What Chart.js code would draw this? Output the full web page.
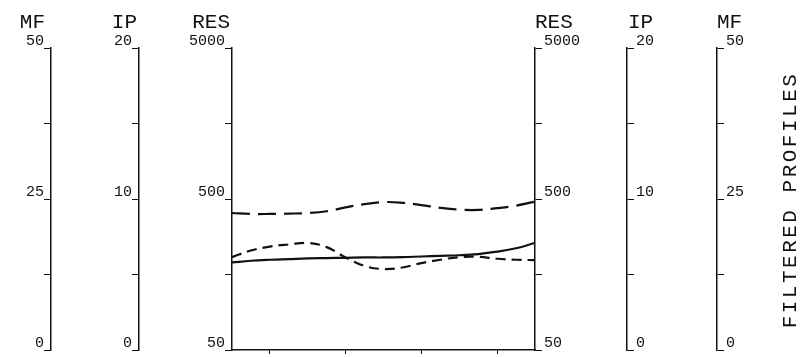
<!DOCTYPE html>
<html>
<head>
<meta charset="utf-8">
<script src="https://cdn.jsdelivr.net/npm/chart.js@4"></script>
<style>
  html, body { margin: 0; padding: 0; background: #fff; }
  #wrap { width: 806px; height: 357px; position: relative; }
</style>
</head>
<body>
<div id="wrap"><canvas id="chart"></canvas></div>
<script>
// profile positions along the bottom axis (0..8)
const xPos = [0, 0.5, 1, 1.5, 2, 2.5, 3, 3.5, 4, 4.5, 5, 5.5, 6, 6.5, 7, 7.5, 8]

// RES values (log axis)
const upperRes  = [404, 398, 398, 400, 404, 415, 440, 462, 477, 472, 456, 437, 425, 423, 435, 452, 480]
const middleRes = [206, 228, 242, 250, 256, 240, 205, 180, 172, 176, 188, 198, 206, 207, 201, 198, 197]
const lowerRes  = [190, 195, 198, 200, 202, 203, 204, 205, 205, 206, 208, 210, 212, 216, 224, 236, 256]

// axis ticks + labels
const mfTicks   = [0, 12.5, 25, 37.5, 50]
const mfLabels  = ["0", "", "25", "", "50"]
const ipTicks   = [0, 5, 10, 15, 20]
const ipLabels  = ["0", "", "10", "", "20"]
const resTicks  = [50, 158.1, 500, 1581, 5000]
const resLabels = ["50", "", "500", "", "5000"]
const xTicks    = [1, 3, 5, 7]

const FONT = "'Liberation Mono', 'DejaVu Sans Mono', monospace"
const widths = { mfL: 51, ipL: 88, resL: 93, resR: 92, ipR: 90, mfR: 89 }
const titles = { mfL: "MF", ipL: "IP", resL: "RES", resR: "RES", ipR: "IP", mfR: "MF" }
const titleShift = { mfL: -6, ipL: -2, resL: -2, resR: 0, ipR: 1, mfR: 0 }

const pts = (vals) => vals.map((v, i) => ({ x: xPos[i], y: v }))

function yAxis(id, position, weight, type, min, max, ticks, labels) {
  return {
    type, position, weight, min, max,
    afterBuildTicks: (s) => { s.ticks = ticks.map(v => ({ value: v })) },
    afterFit: (s) => { s.width = widths[id]; s.paddingTop = 0; s.paddingBottom = 0 },
    border: { display: true, color: "#111", width: 1.5 },
    grid: { drawOnChartArea: false, drawTicks: true, tickLength: 7, color: "#111", lineWidth: 1 },
    ticks: {
      autoSkip: false,
      padding: position === "left" ? 0 : 2,
      labelOffset: -7,
      color: "#111",
      font: { family: FONT, size: 15 },
      callback: (v, i) => labels[i]
    }
  }
}

const titlePlugin = {
  id: "axisTitles",
  afterDraw(chart) {
    const ctx = chart.ctx
    ctx.save()
    ctx.fillStyle = "#111"
    ctx.font = `21px ${FONT}`
    ctx.textBaseline = "alphabetic"
    Object.keys(titles).forEach(id => {
      const s = chart.scales[id]
      if (s.position === "left") {
        ctx.textAlign = "right"
        ctx.fillText(titles[id], s.right + titleShift[id], 28)
      } else {
        ctx.textAlign = "left"
        ctx.fillText(titles[id], s.left + titleShift[id], 28)
      }
    })
    // side title, reads bottom to top
    ctx.translate(790, 200)
    ctx.rotate(-Math.PI / 2)
    ctx.textAlign = "center"
    ctx.textBaseline = "middle"
    ctx.letterSpacing = "2.5px"
    ctx.fillText("FILTERED PROFILES", 0, 0)
    ctx.restore()
  }
}

new Chart(document.getElementById("chart"), {
  type: "line",
  data: {
    datasets: [
      { label: "upper", data: pts(upperRes), borderDash: [18, 8] },
      { label: "middle", data: pts(middleRes), borderDash: [10, 6] },
      { label: "lower", data: pts(lowerRes) }
    ].map(d => ({
      ...d, yAxisID: "resL", borderColor: "#111", borderWidth: 2.2,
      pointRadius: 0, tension: 0.4, fill: false
    }))
  },
  options: {
    responsive: true,
    maintainAspectRatio: false,
    animation: false,
    layout: { padding: { top: 48, left: 0, right: 0, bottom: 0 } },
    plugins: { legend: { display: false }, tooltip: { enabled: false } },
    scales: {
      x: {
        type: "linear", min: 0, max: 8,
        afterBuildTicks: (s) => { s.ticks = xTicks.map(v => ({ value: v })) },
        afterFit: (s) => { s.height = 7; s.paddingLeft = 0; s.paddingRight = 0 },
        border: { display: true, color: "#111", width: 1.5 },
        grid: { drawOnChartArea: false, drawTicks: true, tickLength: 4, color: "#111" },
        ticks: { display: false }
      },
      mfL: yAxis("mfL", "left", 3, "linear", 0, 50, mfTicks, mfLabels),
      ipL: yAxis("ipL", "left", 2, "linear", 0, 20, ipTicks, ipLabels),
      resL: yAxis("resL", "left", 1, "logarithmic", 50, 5000, resTicks, resLabels),
      resR: yAxis("resR", "right", 1, "logarithmic", 50, 5000, resTicks, resLabels),
      ipR: yAxis("ipR", "right", 2, "linear", 0, 20, ipTicks, ipLabels),
      mfR: yAxis("mfR", "right", 3, "linear", 0, 50, mfTicks, mfLabels)
    }
  },
  plugins: [titlePlugin]
})
</script>
</body>
</html>
